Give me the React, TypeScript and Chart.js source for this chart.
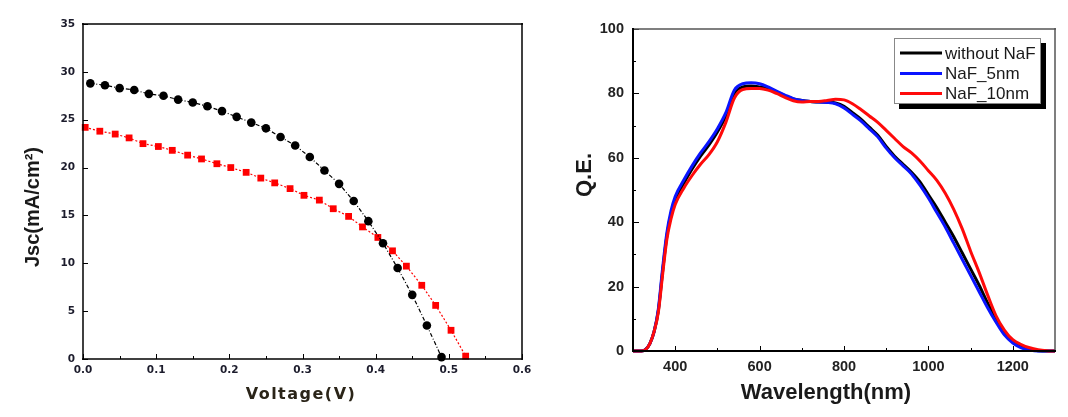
import React, { useEffect, useRef } from "react";
import { Chart, registerables } from "chart.js";

Chart.register(...registerables);

// ---------- Left panel: J-V curves ----------
const jvVoltageA = [0.01, 0.03, 0.05, 0.07, 0.09, 0.11, 0.13, 0.15, 0.17, 0.19, 0.21, 0.23, 0.25, 0.27, 0.29, 0.31, 0.33, 0.35, 0.37, 0.39, 0.41, 0.43, 0.45, 0.47, 0.49];
const jvCurrentA = [28.8, 28.6, 28.3, 28.1, 27.7, 27.5, 27.1, 26.8, 26.4, 25.9, 25.3, 24.7, 24.1, 23.2, 22.3, 21.1, 19.7, 18.3, 16.5, 14.4, 12.1, 9.5, 6.7, 3.5, 0.2];
const jvVoltageB = [0.003, 0.023, 0.044, 0.063, 0.082, 0.103, 0.122, 0.143, 0.162, 0.183, 0.202, 0.223, 0.243, 0.262, 0.283, 0.302, 0.323, 0.342, 0.363, 0.382, 0.403, 0.423, 0.442, 0.463, 0.482, 0.503, 0.523];
const jvCurrentB = [24.2, 23.8, 23.5, 23.1, 22.5, 22.2, 21.8, 21.3, 20.9, 20.4, 20.0, 19.5, 18.9, 18.4, 17.8, 17.1, 16.6, 15.7, 14.9, 13.8, 12.7, 11.3, 9.7, 7.7, 5.6, 3.0, 0.3];
const jvXTicks = [0, 0.1, 0.2, 0.3, 0.4, 0.5, 0.6];
const jvXMinor = [0.05, 0.15, 0.25, 0.35, 0.45, 0.55];
const jvYTicks = [0, 5, 10, 15, 20, 25, 30, 35];
const jvXTitle = "Voltage(V)";
const jvYTitle = "Jsc(mA/cm²)";

// ---------- Right panel: quantum efficiency ----------
const wavelengths = [300, 320, 330, 340, 350, 360, 370, 380, 390, 400, 420, 440, 460, 480, 500, 520, 540, 560, 580, 600, 620, 640, 660, 680, 700, 720, 740, 760, 780, 800, 820, 840, 860, 880, 900, 920, 940, 960, 980, 1000, 1020, 1040, 1060, 1080, 1100, 1120, 1140, 1160, 1180, 1200, 1220, 1240, 1260, 1280, 1300];
const qeWithoutNaF = [0, 0, 0.5, 2.3, 6, 12.5, 24.5, 35.5, 42.5, 47, 52, 56.5, 60.5, 64, 68, 73, 80, 82, 82.3, 82, 81.5, 80.5, 79.3, 78.3, 77.8, 77.5, 77.3, 77.3, 77, 76, 74, 72, 69.5, 67, 63.5, 60.5, 58, 55.5, 52.5, 48.5, 44.5, 40, 35.5, 30.5, 25.5, 20.5, 15, 10, 5.8, 3, 1.3, 0.4, 0.1, 0, 0];
const qeNaF5 = [0, 0, 0.5, 2.3, 6, 13, 25.5, 36.5, 43.5, 48, 53, 57.5, 61.5, 65, 69, 74, 81, 83, 83.3, 83, 82, 80.7, 79.5, 78.4, 77.8, 77.5, 77.3, 77.2, 76.8, 75.5, 73.5, 71.5, 69, 66.5, 63, 60, 57.5, 55, 51.5, 47.5, 43, 38.5, 33.5, 28.5, 23.5, 18.5, 13.5, 9, 5, 2.5, 1, 0.3, 0, 0, 0];
const qeNaF10 = [0, 0, 0.4, 2.3, 6, 12, 23.5, 34.5, 41, 45.5, 50.5, 54.5, 58, 61, 65, 71, 78.5, 81.2, 81.5, 81.5, 81, 80, 78.8, 77.7, 77.3, 77.5, 77.5, 77.8, 78.2, 78, 76.8, 75, 73, 71, 68.5, 66, 63.5, 61.5, 59, 56, 53, 49, 44, 38, 31, 24.5, 17.5, 11, 6.5, 3.5, 2, 1, 0.4, 0.1, 0];
const qeSeriesNames = ["without NaF", "NaF_5nm", "NaF_10nm"];
const qeXTicks = [400, 600, 800, 1000, 1200];
const qeXMinor = [500, 700, 900, 1100];
const qeYTicks = [0, 20, 40, 60, 80, 100];
const qeYMinor = [10, 30, 50, 70, 90];
const qeXTitle = "Wavelength(nm)";
const qeYTitle = "Q.E.";

const toPoints = (xs: number[], ys: number[]) => xs.map((x, i) => ({ x, y: ys[i] }));

const decorPlugin = {
  id: "decor",
  afterDraw(chart: any, _args: any, opts: any) {
    const { ctx, chartArea: a, scales } = chart;
    const xs = scales.x;
    const ys = scales.y;
    ctx.save();
    // inward ticks
    ctx.strokeStyle = opts.tickColor || "#000";
    ctx.lineWidth = opts.tickWidth || 1;
    (opts.xTicks || []).forEach((t: any) => {
      const px = Math.round(xs.getPixelForValue(t.value)) + 0.5;
      ctx.beginPath();
      ctx.moveTo(px, a.bottom);
      ctx.lineTo(px, a.bottom - t.len);
      ctx.stroke();
    });
    (opts.yTicks || []).forEach((t: any) => {
      const py = Math.round(ys.getPixelForValue(t.value)) + 0.5;
      ctx.beginPath();
      ctx.moveTo(a.left, py);
      ctx.lineTo(a.left + t.len, py);
      ctx.stroke();
    });
    // frame
    const f = opts.frame;
    const side = (x1: number, y1: number, x2: number, y2: number, s: any) => {
      ctx.strokeStyle = s.color;
      ctx.lineWidth = s.width;
      ctx.beginPath();
      ctx.moveTo(x1, y1);
      ctx.lineTo(x2, y2);
      ctx.stroke();
    };
    side(a.left - 1, a.top, a.right + 1, a.top, f.top);
    side(a.right, a.top - 1, a.right, a.bottom + 1, f.right);
    side(a.left - 1, a.bottom, a.right + 1, a.bottom, f.bottom);
    side(a.left, a.top - 1, a.left, a.bottom + 1, f.left);
    // legend
    const L = opts.legend;
    if (L) {
      ctx.fillStyle = "#000";
      ctx.fillRect(L.x + L.shadow, L.y + L.shadow, L.w, L.h);
      ctx.fillStyle = "#fff";
      ctx.fillRect(L.x, L.y, L.w, L.h);
      ctx.strokeStyle = "#888";
      ctx.lineWidth = 1;
      ctx.strokeRect(L.x + 0.5, L.y + 0.5, L.w - 1, L.h - 1);
      ctx.font = L.font;
      ctx.textAlign = "left";
      ctx.textBaseline = "middle";
      chart.data.datasets.forEach((ds: any, i: number) => {
        const y = L.rows[i];
        ctx.strokeStyle = ds.borderColor;
        ctx.lineWidth = 3;
        ctx.beginPath();
        ctx.moveTo(L.lineX0, y);
        ctx.lineTo(L.lineX1, y);
        ctx.stroke();
        ctx.fillStyle = "#1a1a1a";
        ctx.fillText(ds.label, L.textX, y + 1);
      });
    }
    // axis titles
    (opts.texts || []).forEach((t: any) => {
      ctx.save();
      ctx.translate(t.x, t.y);
      if (t.rotation) ctx.rotate(t.rotation);
      ctx.font = t.font;
      ctx.fillStyle = t.color;
      if (t.spacing && "letterSpacing" in ctx) (ctx as any).letterSpacing = t.spacing;
      ctx.textAlign = "center";
      ctx.textBaseline = "middle";
      ctx.fillText(t.text, 0, 0);
      ctx.restore();
    });
    ctx.restore();
  },
};

function jvConfig(): any {
  const tickFont = { family: "'DejaVu Sans'", size: 10.5, weight: "bold" as const };
  return {
    type: "scatter",
    data: {
      datasets: [
        {
          label: "A",
          data: toPoints(jvVoltageA, jvCurrentA),
          showLine: true,
          borderColor: "#000",
          backgroundColor: "#000",
          borderWidth: 1.2,
          borderDash: [4, 2, 1, 2],
          pointStyle: "circle",
          pointRadius: 4.3,
          pointBorderWidth: 0,
          clip: false,
        },
        {
          label: "B",
          data: toPoints(jvVoltageB, jvCurrentB),
          showLine: true,
          borderColor: "#ff0000",
          backgroundColor: "#ff0000",
          borderWidth: 1.2,
          borderDash: [2, 2],
          pointStyle: "rect",
          pointRadius: 4.8,
          pointBorderWidth: 0,
          clip: false,
        },
      ],
    },
    options: {
      responsive: false,
      animation: false,
      devicePixelRatio: 1,
      layout: { padding: { left: 0, top: 24, right: 18, bottom: 0 } },
      plugins: {
        legend: { display: false },
        tooltip: { enabled: false },
        decor: {
          tickColor: "#000",
          tickWidth: 1,
          xTicks: [...jvXTicks.map((v) => ({ value: v, len: 5 })), ...jvXMinor.map((v) => ({ value: v, len: 3 }))],
          yTicks: jvYTicks.map((v) => ({ value: v, len: 5 })),
          frame: {
            top: { color: "#000", width: 1.5 },
            right: { color: "#000", width: 1.5 },
            bottom: { color: "#000", width: 1.5 },
            left: { color: "#000", width: 1.5 },
          },
          texts: [
            { text: jvYTitle, x: 33, y: 207, rotation: -Math.PI / 2, font: "bold 20px 'Liberation Sans'", color: "#1a1a1a" },
            { text: jvXTitle, x: 301, y: 395, font: "bold 16px 'DejaVu Sans'", color: "#2a2418", spacing: "1.5px" },
          ],
        },
      },
      scales: {
        x: {
          type: "linear",
          min: 0,
          max: 0.6,
          afterFit: (s: any) => { s.height = 58; },
          afterBuildTicks: (s: any) => { s.ticks = jvXTicks.map((v) => ({ value: v })); },
          grid: { display: false, drawTicks: false },
          border: { display: false },
          ticks: { padding: 5, font: tickFont, color: "#1c1c2c", maxRotation: 0, autoSkip: false, callback: (v: any) => Number(v).toFixed(1) },
        },
        y: {
          type: "linear",
          min: 0,
          max: 35,
          afterFit: (s: any) => { s.width = 83; },
          afterBuildTicks: (s: any) => { s.ticks = jvYTicks.map((v) => ({ value: v })); },
          grid: { display: false, drawTicks: false },
          border: { display: false },
          ticks: { padding: 8, font: tickFont, color: "#1c1c2c", autoSkip: false, callback: (v: any) => String(v) },
        },
      },
    },
    plugins: [decorPlugin],
  };
}

function qeConfig(): any {
  const tickFont = { family: "'Liberation Sans'", size: 14.5, weight: "bold" as const };
  const colors = ["#000000", "#0a14ff", "#ff0a0a"];
  const series = [qeWithoutNaF, qeNaF5, qeNaF10];
  return {
    type: "scatter",
    data: {
      datasets: series.map((vals, i) => ({
        label: qeSeriesNames[i],
        data: toPoints(wavelengths, vals),
        showLine: true,
        borderColor: colors[i],
        backgroundColor: colors[i],
        borderWidth: 3,
        pointRadius: 0,
        cubicInterpolationMode: "monotone",
        order: 3 - i,
        clip: false,
      })),
    },
    options: {
      responsive: false,
      animation: false,
      devicePixelRatio: 1,
      layout: { padding: { left: 0, top: 29, right: 13, bottom: 0 } },
      plugins: {
        legend: { display: false },
        tooltip: { enabled: false },
        decor: {
          tickColor: "#000",
          tickWidth: 1,
          xTicks: [...qeXTicks.map((v) => ({ value: v, len: 5 })), ...qeXMinor.map((v) => ({ value: v, len: 3 }))],
          yTicks: [...qeYTicks.map((v) => ({ value: v, len: 6 })), ...qeYMinor.map((v) => ({ value: v, len: 3 }))],
          frame: {
            top: { color: "#555", width: 1.5 },
            right: { color: "#555", width: 1.5 },
            bottom: { color: "#000", width: 2 },
            left: { color: "#000", width: 2 },
          },
          legend: {
            x: 354, y: 38, w: 147, h: 66, shadow: 5,
            rows: [53, 73.5, 93.5],
            lineX0: 360, lineX1: 402, textX: 405,
            font: "17px 'Liberation Sans'",
          },
          texts: [
            { text: qeYTitle, x: 45, y: 175, rotation: -Math.PI / 2, font: "bold 22px 'Liberation Sans'", color: "#1a1a1a" },
            { text: qeXTitle, x: 286, y: 393, font: "bold 22px 'Liberation Sans'", color: "#1a1a1a" },
          ],
        },
      },
      scales: {
        x: {
          type: "linear",
          min: 300,
          max: 1300,
          afterFit: (s: any) => { s.height = 66; },
          afterBuildTicks: (s: any) => { s.ticks = qeXTicks.map((v) => ({ value: v })); },
          grid: { display: false, drawTicks: false },
          border: { display: false },
          ticks: { padding: 7, font: tickFont, color: "#222", maxRotation: 0, autoSkip: false, callback: (v: any) => String(v) },
        },
        y: {
          type: "linear",
          min: 0,
          max: 100,
          afterFit: (s: any) => { s.width = 93; },
          afterBuildTicks: (s: any) => { s.ticks = qeYTicks.map((v) => ({ value: v })); },
          grid: { display: false, drawTicks: false },
          border: { display: false },
          ticks: { padding: 9, font: tickFont, color: "#222", autoSkip: false, callback: (v: any) => String(v) },
        },
      },
    },
    plugins: [decorPlugin],
  };
}

export default function App() {
  const jvRef = useRef<HTMLCanvasElement>(null);
  const qeRef = useRef<HTMLCanvasElement>(null);
  useEffect(() => {
    const jv = new Chart(jvRef.current as HTMLCanvasElement, jvConfig());
    const qe = new Chart(qeRef.current as HTMLCanvasElement, qeConfig());
    return () => {
      jv.destroy();
      qe.destroy();
    };
  }, []);
  return (
    <div style={{ position: "absolute", left: 0, top: 0, width: 1068, height: 417, background: "#fff", overflow: "hidden" }}>
      <canvas ref={jvRef} width={540} height={417} style={{ position: "absolute", left: 0, top: 0, width: 540, height: 417 }} />
      <canvas ref={qeRef} width={528} height={417} style={{ position: "absolute", left: 540, top: 0, width: 528, height: 417 }} />
    </div>
  );
}
